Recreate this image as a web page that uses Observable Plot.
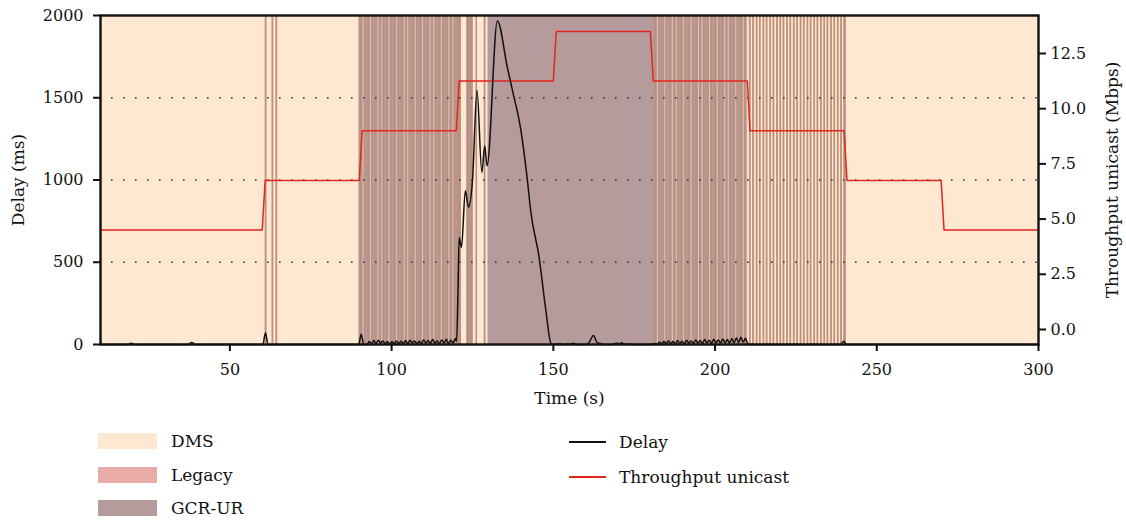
<!DOCTYPE html>
<html><head><meta charset="utf-8">
<script src="https://cdn.jsdelivr.net/npm/d3@7"></script>
<script src="https://cdn.jsdelivr.net/npm/@observablehq/plot@0.6"></script>
<style>
body{margin:0;background:#fff;font-family:"DejaVu Serif",serif;}
#wrap{position:relative;width:1126px;height:521px;overflow:hidden;}
#chart{position:absolute;left:0;top:0;}
.sw{position:absolute;}
.lt{position:absolute;font-size:17px;line-height:20px;color:#111;white-space:nowrap;}
</style></head><body>
<div id="wrap"><div id="chart"></div><div id="legend"></div></div>
<script>
// ---- data ----
const xTicks = [50, 100, 150, 200, 250, 300];
const delayTicks = [0, 500, 1000, 1500, 2000];
const thrTicks = [0, 2.5, 5, 7.5, 10, 12.5];

// Throughput unicast (Mbps): step times and values
const thrTime = [10, 60, 60.9, 90, 90.9, 120, 120.9, 150, 150.9, 180, 180.9, 210, 210.8, 239.9, 240.8, 269.9, 270.8, 300];
const thrMbps = [4.5, 4.5, 6.75, 6.75, 9, 9, 11.25, 11.25, 13.5, 13.5, 11.25, 11.25, 9, 9, 6.75, 6.75, 4.5, 4.5];

// Delay (ms)
const delayTime = [10,18.5,19.5,20.5,37,38.2,39.4,60.2,61,61.8,89.8,90.6,91.4,92.4,93.1,93.8,94.5,95.2,95.9,96.6,97.3,98,98.7,99.4,100.1,100.8,101.5,102.2,102.9,103.6,104.3,105,105.7,106.4,107.1,107.8,108.5,109.2,109.9,110.6,111.3,112,112.7,113.4,114.1,114.8,115.5,116.2,116.9,117.6,118.3,119,119.7,120.1,120.5,120.9,121.6,122.8,123.8,125,126.4,127.9,128.8,129.5,132.7,135.8,137.4,140,142,143,145.6,147.7,149.2,149.8,151,152.3,153.2,155.6,156.3,157,160,161,162.4,163.6,164.6,165.4,168,169.6,170.4,171.2,172,173.6,174.4,180.4,181.2,182,182.8,183.5,184.2,184.9,185.6,186.3,187,187.7,188.4,189.1,189.8,190.5,191.2,191.9,192.6,193.3,194,194.7,195.4,196.1,196.8,197.5,198.2,198.9,199.6,200.3,201,201.7,202.4,203.1,203.8,204.5,205.2,205.9,206.6,207.3,208,208.7,209.4,210.1,210.8,238.8,239.8,240.6,300];
const delayMs   = [0,0,7,0,0,12,0,0,72,0,0,62,0,0,18,4,24,6,26,8,22,4,18,3,16,5,22,4,20,6,24,5,26,8,22,4,20,6,28,8,24,6,30,8,22,5,28,8,32,6,26,10,36,20,300,650,590,935,835,995,1546,1046,1208,1086,1967,1683,1542,1299,995,813,530,206,10,0,2,5,0,4,8,0,0,10,55,10,6,0,0,8,4,10,0,4,0,0,6,0,14,4,18,6,22,5,18,4,24,6,20,4,26,8,22,6,28,8,24,6,30,8,26,6,32,10,28,8,34,10,30,8,36,10,40,12,44,14,38,6,0,0,20,0,0];

// Operating mode periods (s)
const gcrSpans = [[89.9,121.6],[123.2,125.3],[129.8,210.1],[239.9,240.6]];
const stripeTimes = [61.2,63.3,64.5,
  90.6,91.7,92.9,94.0,95.2,96.4,97.5,98.6,99.8,101.0,102.1,103.3,104.4,105.6,106.8,107.9,109.0,110.2,111.4,112.5,113.7,114.8,116.0,117.2,118.3,119.5,120.6,121.2,123.8,124.6,126.3,128.9,
  181.6,182.7,183.9,185.0,186.2,187.4,188.5,189.7,190.8,192.0,193.1,194.3,195.5,196.6,197.8,198.9,200.1,201.3,202.4,203.6,204.7,205.9,207.0,208.2,209.4,
  210.9,211.9,213.0,214.0,215.1,216.1,217.2,218.2,219.3,220.3,221.3,222.4,223.4,224.5,225.5,226.6,227.6,228.7,229.7,230.8,231.8,232.9,233.9,234.9,236.0,237.0,238.1,239.1,240.1];
const paleTimes = [91.2,93.5,95.8,97.0,99.2,101.6,103.9,105.0,107.3,109.6,111.9,113.1,115.4,117.7,119.0,122.0,122.6,125.8,127.2,128.0,
  182.2,184.5,186.8,188.0,190.3,192.6,194.9,196.0,198.3,200.7,203.0,204.1,206.4,208.7,209.9];

const areaLabels = ["DMS", "Legacy", "GCR-UR"];
const lineLabels = ["Delay", "Throughput unicast"];

// ---- styles ----
const peach = "#fee8d1", mauve = "#b59b9b", brown = "#be8f7b", legacy = "#e9aba6", red = "#e2261c", ink = "#111";
const areaColors = [peach, legacy, mauve];
const lineColors = [ink, red];

const thrLo = -0.68, thrHi = 14.22;
const toDelay = v => (v - thrLo) / (thrHi - thrLo) * 2000;
const fromDelay = d => thrLo + d / 2000 * (thrHi - thrLo);

const delayRows = delayTime.map((t, i) => ({t, v: delayMs[i]}));
const thrRows = thrTime.map((t, i) => ({t, v: thrMbps[i]}));

const chart = Plot.plot({
  width: 1126, height: 410,
  marginLeft: 100, marginRight: 88, marginTop: 15, marginBottom: 66,
  x: {domain: [10, 300]},
  y: {domain: [0, 2000]},
  style: {fontFamily: "DejaVu Serif", fontSize: "16px", color: ink, background: "transparent", overflow: "visible"},
  marks: [
    Plot.frame({fill: peach, stroke: null}),
    Plot.rect(gcrSpans, {x1: d => d[0], x2: d => d[1], fill: mauve}),
    Plot.rect(stripeTimes, {x1: d => d - 0.28, x2: d => d + 0.28, fill: brown}),
    Plot.ruleX(paleTimes, {stroke: peach, strokeWidth: 1, strokeOpacity: 0.55}),
    Plot.ruleY([500, 1000, 1500], {stroke: "#333", strokeWidth: 1.6, strokeDasharray: "1.6,10.4", strokeDashoffset: -11}),
    Plot.line(thrRows, {x: "t", y: d => toDelay(d.v), stroke: red, strokeWidth: 1.5}),
    Plot.line(delayRows, {x: "t", y: "v", stroke: ink, strokeWidth: 1.5, curve: "monotone-x"}),
    Plot.frame({stroke: ink, strokeWidth: 2.4}),
    Plot.axisX({ticks: xTicks, tickFormat: "d", tickSize: 7, tickPadding: 12, strokeWidth: 2, label: null}),
    Plot.axisY({anchor: "left", ticks: delayTicks, tickFormat: "d", tickSize: 7, tickPadding: 10, strokeWidth: 2, label: null}),
    Plot.axisY(thrTicks.map(toDelay), {anchor: "right", tickFormat: d => fromDelay(d).toFixed(1), tickSize: 7, tickPadding: 5, strokeWidth: 2, label: null}),
    Plot.text(["Time (s)"], {text: d => d, frameAnchor: "bottom", dy: 54, textAnchor: "middle", lineAnchor: "middle", fontSize: 17, fill: ink}),
    Plot.text(["Delay (ms)"], {text: d => d, frameAnchor: "left", dx: -82, rotate: -90, textAnchor: "middle", lineAnchor: "middle", fontSize: 17, fill: ink}),
    Plot.text(["Throughput unicast (Mbps)"], {text: d => d, frameAnchor: "right", dx: 74, rotate: -90, textAnchor: "middle", lineAnchor: "middle", fontSize: 17, fill: ink})
  ]
});
document.getElementById("chart").appendChild(chart);

// ---- legend ----
const lg = document.getElementById("legend");
areaLabels.forEach((name, i) => {
  const sw = document.createElement("div");
  sw.className = "sw";
  Object.assign(sw.style, {left: "98px", top: (433 + i * 33.5) + "px", width: "59px", height: "16px", background: areaColors[i]});
  lg.appendChild(sw);
  const t = document.createElement("div");
  t.className = "lt";
  t.textContent = name;
  Object.assign(t.style, {left: "171px", top: (431 + i * 33.5) + "px"});
  lg.appendChild(t);
});
lineLabels.forEach((name, i) => {
  const sw = document.createElement("div");
  sw.className = "sw";
  Object.assign(sw.style, {left: "569px", top: (441 + i * 35) + "px", width: "37px", height: "2px", background: lineColors[i]});
  lg.appendChild(sw);
  const t = document.createElement("div");
  t.className = "lt";
  t.textContent = name;
  Object.assign(t.style, {left: "619px", top: (432 + i * 35) + "px"});
  lg.appendChild(t);
});
</script>
</body></html>
